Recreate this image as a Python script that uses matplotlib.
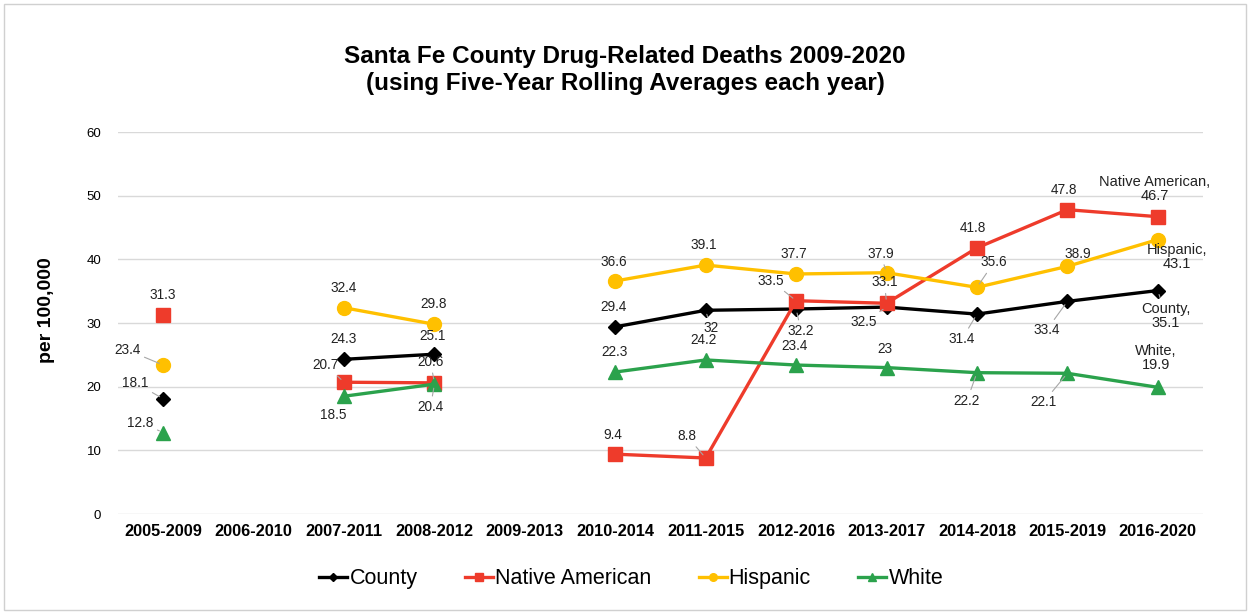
import numpy as np
import matplotlib
matplotlib.use('Agg')
import matplotlib.pyplot as plt
from matplotlib.patches import Rectangle

plt.rcParams['font.family'] = ['Liberation Sans', 'DejaVu Sans']

periods = ['2005-2009', '2006-2010', '2007-2011', '2008-2012', '2009-2013', '2010-2014',
           '2011-2015', '2012-2016', '2013-2017', '2014-2018', '2015-2019', '2016-2020']
nan = np.nan
county = [18.1, nan, 24.3, 25.1, nan, 29.4, 32, 32.2, 32.5, 31.4, 33.4, 35.1]
native_american = [31.3, nan, 20.7, 20.6, nan, 9.4, 8.8, 33.5, 33.1, 41.8, 47.8, 46.7]
hispanic = [23.4, nan, 32.4, 29.8, nan, 36.6, 39.1, 37.7, 37.9, 35.6, 38.9, 43.1]
white = [12.8, nan, 18.5, 20.4, nan, 22.3, 24.2, 23.4, 23, 22.2, 22.1, 19.9]

# label offsets in pixels (dx, dy) and whether a leader line is drawn
county_lbl = [(-28, 16, 1), None, (0, 20, 0), (-2, 18, 0), None, (-2, 20, 0),
              (5, -18, 1), (5, -22, 1), (-23, -15, 1), (-15, -25, 1), (-21, -29, 1), (8, -25, 1)]
native_lbl = [(0, 20, 0), None, (-18, 17, 1), (-4, 21, 1), None, (-2, 19, 0),
              (-19, 22, 1), (-25, 20, 1), (-2, 21, 1), (-4, 20, 0), (-3, 20, 0), (-3, 28, 0)]
hisp_lbl = [(-36, 15, 1), None, (0, 20, 0), (-1, 20, 0), None, (-1, 19, 0),
            (-2, 20, 0), (-2, 20, 0), (-6, 19, 1), (17, 25, 1), (10, 12, 0), (19, -17, 0)]
white_lbl = [(-23, 10, 1), None, (-11, -19, 0), (-4, -23, 1), None, (-1, 20, 0),
             (-2, 20, 0), (-2, 19, 0), (-2, 19, 0), (-10, -28, 1), (-24, -29, 1), (-2, 29, 0)]

series = [
    ('County', county, 'black', 'D', 7.5, county_lbl),
    ('Native American', native_american, '#ee3b2b', 's', 10, native_lbl),
    ('Hispanic', hispanic, '#ffc000', 'o', 10, hisp_lbl),
    ('White', white, '#2ba24c', '^', 10, white_lbl),
]

fig = plt.figure(figsize=(12.5, 6.12), dpi=100)
ax = fig.add_axes([0.0944, 0.1601, 0.868, 0.6242])
x = np.arange(len(periods))

for name, vals, color, mk, ms, lbls in series:
    ax.plot(x, vals, color=color, lw=2.4, marker=mk, ms=ms, mec=color, label=name, zorder=3)
    for i, v in enumerate(vals):
        if np.isnan(v):
            continue
        dx, dy, leader = lbls[i]
        txt = f'{v:g}'
        if i == len(vals) - 1:
            txt = f'{name},\n{v:g}'
        kw = {}
        if leader:
            kw['arrowprops'] = dict(arrowstyle='-', color='#a6a6a6', lw=0.8, shrinkA=1, shrinkB=3)
        ax.annotate(txt, (i, v), xytext=(dx, dy), textcoords='offset pixels',
                    ha='center', va='center', fontsize=10.5 if i == len(vals) - 1 else 9.8,
                    color='#222222', linespacing=1.0, zorder=4, **kw)

ax.set_xlim(-0.5, 11.5)
ax.set_ylim(0, 60)
ax.set_yticks(range(0, 61, 10))
ax.set_xticks(x)
ax.set_xticklabels(periods, fontsize=11.8, fontweight='bold')
ax.tick_params(axis='y', length=0, labelsize=9.5, pad=12)
ax.tick_params(axis='x', length=0, pad=7)
ax.grid(axis='y', color='#d9d9d9', lw=1)
ax.set_axisbelow(True)
for s in ax.spines.values():
    s.set_visible(False)
ax.set_ylabel('per 100,000', fontsize=14, fontweight='bold')
ax.yaxis.set_label_coords(-0.058, 0.534)

fig.text(0.5, 0.886, 'Santa Fe County Drug-Related Deaths 2009-2020\n(using Five-Year Rolling Averages each year)',
         ha='center', va='center', fontsize=17.5, fontweight='bold', linespacing=1.2)

fig.legend(loc='center', bbox_to_anchor=(0.505, 0.054), ncol=4, frameon=False,
           fontsize=15.5, handlelength=1.3, columnspacing=2.2, handletextpad=0.1, markerscale=0.55)

fig.patches.append(Rectangle((0.003, 0.004), 0.994, 0.99, transform=fig.transFigure,
                             fill=False, edgecolor='#d0d0d0', lw=1))

fig.savefig('out.png', dpi=100)
